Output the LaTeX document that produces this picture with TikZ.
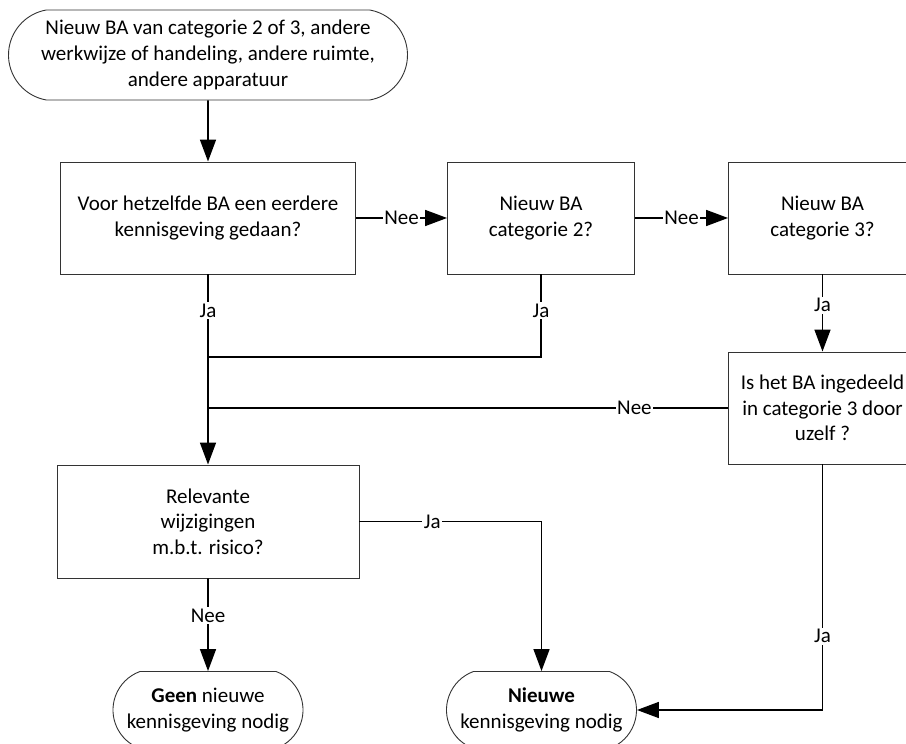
\documentclass[tikz,border=0pt]{standalone}
\usepackage{fontspec}
\setmainfont{Carlito}
\usetikzlibrary{arrows.meta,shapes.misc,positioning}
\tikzset{arrows={-{Triangle[length=22pt,width=16pt]}}}

\begin{document}
\begin{tikzpicture}[x=1pt, y=1pt, node distance=333pt, line width=1.6pt,
    font=\fontsize{21}{25.6}\selectfont,
    box/.style={draw=black!80, line width=0.9pt, rectangle, minimum height=112pt, align=center, inner sep=0pt},
    term/.style={draw=black!80, line width=0.9pt, rounded rectangle, align=center, inner sep=0pt},
    lbl/.style={fill=white, inner sep=1.5pt}]
    \path[use as bounding box, clip] (0,0) rectangle (906,744);
    \node[term, minimum width=399pt, minimum height=90pt, rounded rectangle arc length=160] (start) at (208,689) {Nieuw BA van categorie 2 of 3, andere\\werkwijze of handeling, andere ruimte,\\andere apparatuur};
    \node[box, minimum width=295pt] (eerder) [below of=start, node distance=163pt] {Voor hetzelfde BA een eerdere\\kennisgeving gedaan?};
    \node[box, minimum width=187pt] (cat2) [right of=eerder] {Nieuw BA\\categorie 2?};
    \node[box, minimum width=188pt] (cat3) [right of=cat2, node distance=281.5pt] {Nieuw BA\\categorie 3?};
    \node[box, minimum width=188pt] (uzelf) [below of=cat3, node distance=190pt] {Is het BA ingedeeld\\in categorie 3 door\\uzelf ?};
    \node[box, minimum width=302pt, minimum height=113pt] (relevant) [below of=eerder, node distance=303.5pt] {Relevante\\wijzigingen\\m.b.t. risico?};
    \node[term, minimum width=190pt, minimum height=77pt, rounded rectangle arc length=140] (geen) [below of=relevant, node distance=188.5pt] {\textbf{Geen} nieuwe\\kennisgeving nodig};
    \node[term, minimum width=190pt, minimum height=77pt, rounded rectangle arc length=140] (nieuwe) [right of=geen, node distance=333.5pt] {\textbf{Nieuwe}\\kennisgeving nodig};
    \coordinate[below of=eerder, node distance=139pt] (samen);
    \coordinate (nee3) at (eerder |- uzelf);

    \path (start) edge (eerder)
          (eerder) edge node[lbl] {Nee} (cat2)
          (cat2) edge node[lbl] {Nee} (cat3)
          (cat3) edge node[lbl, pos=0.4] {Ja} (uzelf)
          (eerder) edge node[lbl, pos=0.19] {Ja} (relevant)
          (relevant) edge node[lbl, pos=0.4] {Nee} (geen);
    \draw[-] (cat2) |- node[lbl, pos=0.22] {Ja} (samen);
    \draw[-] (uzelf) -- node[lbl, pos=0.18] {Nee} (nee3);
    \draw (relevant) -| node[lbl, pos=0.2] {Ja} (nieuwe);
    \draw (uzelf) |- node[lbl, pos=0.35] {Ja} (nieuwe);
\end{tikzpicture}
\end{document}
